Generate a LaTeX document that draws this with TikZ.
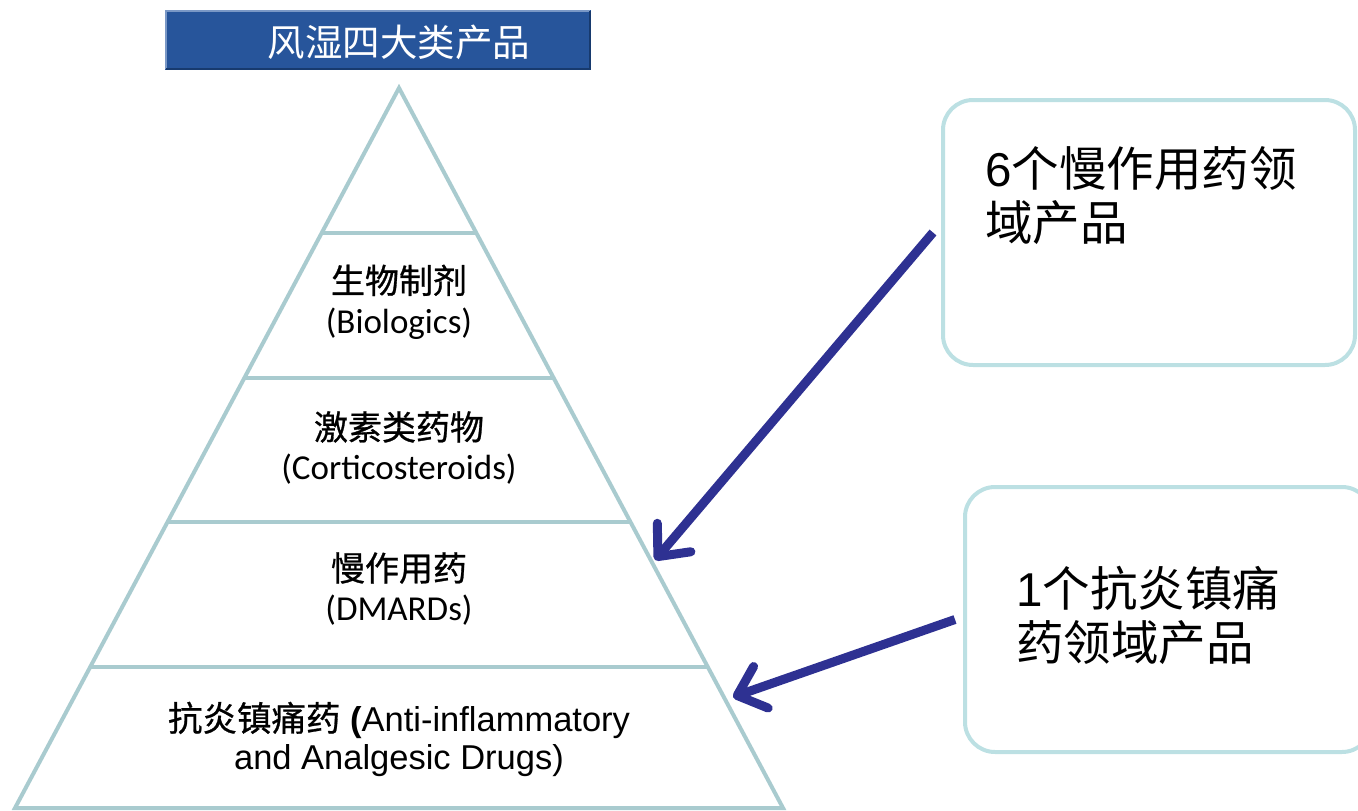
\documentclass[tikz,border=0pt]{standalone}
\usepackage{fontspec}
\setmainfont{Liberation Sans}
\newfontfamily\cjk{Noto Sans CJK SC}
\newfontfamily\cjkm[FakeBold=0.8]{Noto Sans CJK SC}
\newfontfamily\carl{Carlito}
\usetikzlibrary{arrows.meta}
\definecolor{pyr}{HTML}{A9CBCF}
\definecolor{bxline}{HTML}{BCE0E3}
\definecolor{arrblue}{HTML}{2E3192}
\definecolor{titlefill}{HTML}{27559B}
\definecolor{titlelight}{HTML}{7A98C6}
\definecolor{titledark}{HTML}{173A6E}
\tikzset{
  pyrline/.style={draw=pyr, line width=4pt, line join=miter},
  layertext/.style={align=center, inner sep=0pt, font=\fontsize{34}{40}\selectfont},
  infobox/.style={draw=bxline, line width=4pt, rounded corners=30pt, fill=white},
  boxtext/.style={align=left, anchor=west, inner sep=0pt, font=\fontsize{47.5}{54}\selectfont},
  arr/.style={draw=arrblue, line width=9pt, -{Straight Barb[length=25pt,width=44pt,round]}},
}
\begin{document}
\begin{tikzpicture}[x=1pt,y=-1pt]
\useasboundingbox (0,0) rectangle (1358,811);
% title box
\fill[titlefill] (165,10) rectangle (591,70);
\draw[titlelight, line width=2pt] (166,69) -- (166,11) -- (590,11);
\draw[titledark, line width=2pt] (166,69) -- (590,69) -- (590,11);
\node[text=white, inner sep=0pt, font=\cjk\fontsize{37.5}{40}\selectfont] (title) at (399,42) {风湿四大类产品};
% pyramid
\draw[pyrline] (399,88) -- (783,808) -- (15,808) -- cycle;
\draw[pyrline] (321.7,233) -- (476.3,233);
\draw[pyrline] (244.3,378) -- (553.7,378);
\draw[pyrline] (167.5,522) -- (630.5,522);
\draw[pyrline] (90.2,667) -- (707.8,667);
% layer texts
\node[layertext] (bio) at (399,302) {{\cjkm 生物制剂}\\{\carl\fontsize{35}{40}\selectfont (Biologics)}};
\node[layertext] (cort) at (399,448) {{\cjkm 激素类药物}\\{\carl\fontsize{35}{40}\selectfont (Corticosteroids)}};
\node[layertext] (dmard) at (399,589) {{\cjkm 慢作用药}\\{\carl\fontsize{35}{40}\selectfont (DMARDs)}};
\node[align=center, inner sep=0pt, font=\fontsize{34.5}{38}\selectfont] (nsaid) at (399,739)
  {{\cjkm 抗炎镇痛药} \textbf{(}Anti-inflammatory\\and Analgesic Drugs)};
% info boxes
\node[infobox, minimum width=412pt, minimum height=265pt] (box1) at (1149,232.5) {};
\node[infobox, minimum width=407pt, minimum height=265pt] (box2) at (1168.5,619.5) {};
\node[boxtext] (t1) at (985,196) {6{\cjk 个慢作用药领}\\{\cjk 域产品}};
\node[boxtext] (t2) at (1016,615) {1{\cjk 个抗炎镇痛}\\{\cjk 药领域产品}};
% arrows
\coordinate (tip1) at (655,560);
\coordinate (tip2) at (733,697);
\draw[arr] ([xshift=-8pt]box1.west) -- (tip1);
\draw[arr] ([xshift=-8pt]box2.west) -- (tip2);
\end{tikzpicture}
\end{document}
